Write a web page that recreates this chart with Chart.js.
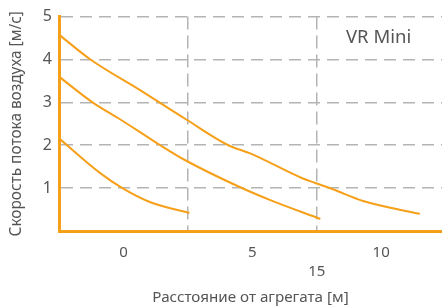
<!DOCTYPE html>
<html>
<head>
<meta charset="utf-8">
<script src="https://cdn.jsdelivr.net/npm/chart.js@4"></script>
<style>
  body { margin: 0; background: #fff; }
  #wrap { width: 442px; height: 307px; }
</style>
</head>
<body>
<div id="wrap"><canvas id="myChart"></canvas></div>
<script>
// curve values (distance, speed)
const topX = [-2.5, -1.28, 0.66, 2.44, 4.07, 4.92, 6.94, 7.44, 8.1, 9.3, 11.5];
const topY = [4.58, 4.0, 3.28, 2.6, 2.0, 1.81, 1.23, 1.12, 0.98, 0.7, 0.4];
const midX = [-2.5, -1.2, -0.12, 0.66, 1.43, 2.4, 4.53, 5.7, 7.64];
const midY = [3.6, 3.0, 2.6, 2.3, 2.0, 1.65, 1.02, 0.72, 0.28];
const lowX = [-2.5, -0.9, -0.04, 1.05, 2.56];
const lowY = [2.16, 1.35, 1.0, 0.67, 0.42];

const xTicks = [0, 2.5, 5, 7.5, 10];
const xLabels = ['0', '', '5', ['', '15'], '10'];
const xGrid = [2.5, 7.5];
const yTicks = [0, 1, 2, 3, 4, 5];

const orange = '#f6a01a';
const gray = '#555';

const toPts = (xs, ys) => xs.map((x, i) => ({ x: x, y: ys[i] }));

const line = (xs, ys) => ({
  data: toPts(xs, ys),
  borderColor: orange,
  borderWidth: 2,
  pointRadius: 0,
  fill: false,
  cubicInterpolationMode: 'monotone'
});

const labelPlugin = {
  id: 'vrLabel',
  afterDraw(chart) {
    const { ctx, scales } = chart;
    ctx.save();
    ctx.font = '18.5px "Noto Sans"';
    ctx.fillStyle = gray;
    ctx.textAlign = 'center';
    ctx.textBaseline = 'middle';
    ctx.fillText('VR Mini', scales.x.getPixelForValue(9.9), scales.y.getPixelForValue(4.5));
    ctx.restore();
  }
};

var ctx = document.getElementById('myChart').getContext('2d');
var chart = new Chart(ctx, {
  type: 'line',
  data: {
    datasets: [line(topX, topY), line(midX, midY), line(lowX, lowY)]
  },
  options: {
    responsive: true,
    maintainAspectRatio: false,
    animation: false,
    layout: { padding: { top: 16, right: 0, left: 0, bottom: 0 } },
    plugins: { legend: { display: false }, tooltip: { enabled: false } },
    scales: {
      x: {
        type: 'linear',
        min: -2.5,
        max: 12.36,
        afterBuildTicks: s => { s.ticks = xTicks.map(v => ({ value: v })); },
        afterFit: s => { s.height = 76; },
        ticks: {
          autoSkip: false,
          maxRotation: 0,
          padding: 12,
          color: gray,
          font: { family: 'Noto Sans', size: 15, lineHeight: 1.27 },
          callback: (v, i) => xLabels[i]
        },
        grid: {
          drawTicks: false,
          lineWidth: 1.5,
          color: c => (c.tick && xGrid.includes(c.tick.value)) ? '#b4b4b4' : 'rgba(0,0,0,0)'
        },
        border: { color: orange, width: 3, dash: [13, 6] },
        title: {
          display: true,
          text: 'Расстояние от агрегата [м]',
          color: gray,
          font: { family: 'Noto Sans', size: 15.2 },
          padding: { top: 0, bottom: 0 }
        }
      },
      y: {
        min: 0,
        max: 5,
        afterBuildTicks: s => { s.ticks = yTicks.map(v => ({ value: v })); },
        afterFit: s => { s.width = 59; },
        ticks: {
          padding: 7,
          color: gray,
          font: { family: 'Noto Sans', size: 16 },
          callback: v => v === 0 ? '' : v
        },
        grid: {
          drawTicks: false,
          lineWidth: 1.5,
          color: c => (c.tick && c.tick.value > 0) ? '#b4b4b4' : 'rgba(0,0,0,0)'
        },
        border: { color: orange, width: 3, dash: [12, 7] },
        title: {
          display: true,
          text: 'Скорость потока воздуха [м/с]',
          color: gray,
          font: { family: 'Noto Sans', size: 15.4 },
          padding: { top: 7, bottom: 0 }
        }
      }
    }
  },
  plugins: [labelPlugin]
});
</script>
</body>
</html>
